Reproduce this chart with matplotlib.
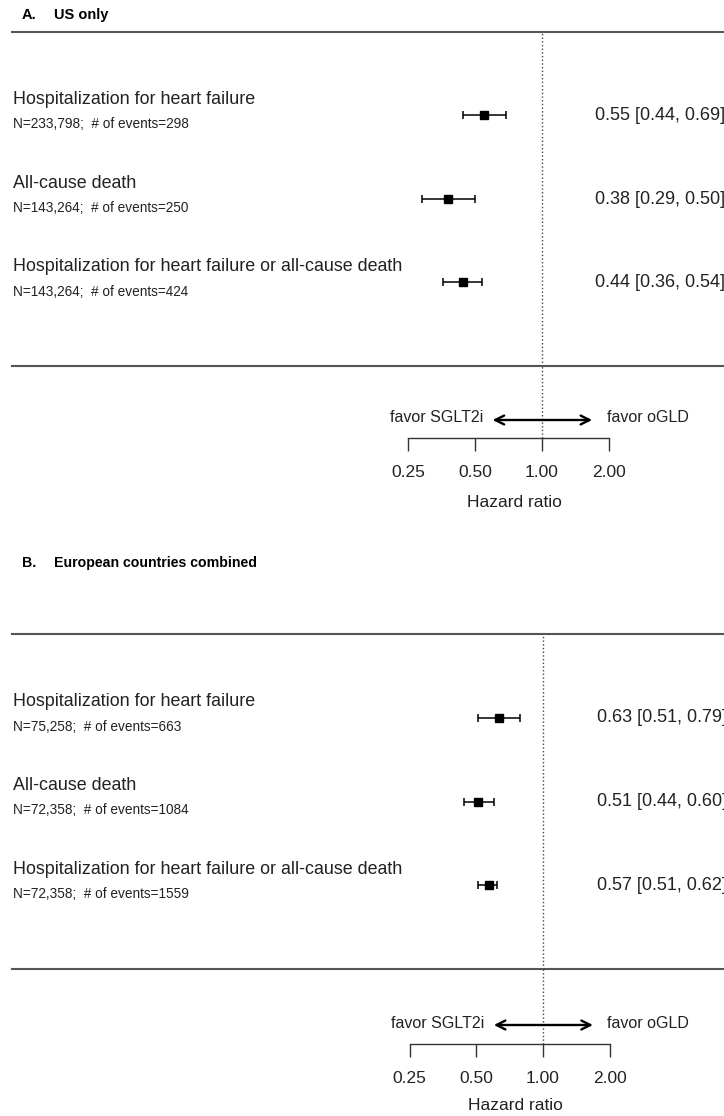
import numpy as np
import matplotlib
matplotlib.use("Agg")
import matplotlib.pyplot as plt
from matplotlib import transforms
from matplotlib.ticker import NullLocator

plt.rcParams['font.family'] = ['Liberation Sans', 'DejaVu Sans']

# data
outcomes = ["Hospitalization for heart failure",
            "All-cause death",
            "Hospitalization for heart failure or all-cause death"]

us_n = ["N=233,798;  # of events=298",
        "N=143,264;  # of events=250",
        "N=143,264;  # of events=424"]
us_hr = [0.55, 0.38, 0.44]
us_lo = [0.44, 0.29, 0.36]
us_hi = [0.69, 0.50, 0.54]

eu_n = ["N=75,258;  # of events=663",
        "N=72,358;  # of events=1084",
        "N=72,358;  # of events=1559"]
eu_hr = [0.63, 0.51, 0.57]
eu_lo = [0.51, 0.44, 0.51]
eu_hi = [0.79, 0.60, 0.62]

ticks = [0.25, 0.5, 1.0, 2.0]
tick_labels = ["0.25", "0.50", "1.00", "2.00"]

W, H = 724, 1116
fig = plt.figure(figsize=(W / 100, H / 100), dpi=100)
fig.patch.set_facecolor("white")

TXT = "#222222"
LINE = "#555555"


def fx(px):
    return px / W


def fy(py):
    return 1 - py / H


def panel(letter, title, title_y, title_size, names, n_txt, hr, lo, hi,
          cx, ppd, top, bot, axis_y, arrow_y, hz_y, val_x):
    left = 12
    xlim = (2 ** ((left - cx) / ppd), 2 ** ((W - cx) / ppd))
    ppy = (bot - top) / 4

    fig.text(fx(22), fy(title_y), letter, fontsize=title_size, weight="bold", va="center", color="black")
    fig.text(fx(54), fy(title_y), title, fontsize=title_size, weight="bold", va="center", color="black")

    main = fig.add_axes([fx(left), fy(bot), 1 - fx(left), (bot - top) / H])
    main.set_xscale("log", base=2)
    main.set_xlim(*xlim)
    main.set_ylim(4, 0)
    main.set_facecolor("none")

    rows = np.arange(1, len(hr) + 1)
    hr = np.array(hr)
    err = [hr - np.array(lo), np.array(hi) - hr]
    main.errorbar(hr, rows, xerr=err, fmt="s", color="black", ms=5.8,
                  capsize=3, elinewidth=1.1, capthick=1.1, zorder=3)
    main.axvline(1, color="#444444", ls=":", lw=1)

    for s in ["left", "right"]:
        main.spines[s].set_visible(False)
    for s in ["top", "bottom"]:
        main.spines[s].set_color(LINE)
        main.spines[s].set_linewidth(1.5)
    main.tick_params(which="both", bottom=False, labelbottom=False, left=False, labelleft=False)
    main.xaxis.set_minor_locator(NullLocator())

    trans = transforms.blended_transform_factory(fig.transFigure, main.transData)
    for r, name, nt, h, l, u in zip(rows, names, n_txt, hr, lo, hi):
        main.text(fx(13), r - 16 / ppy, name, transform=trans, fontsize=12.9,
                  va="center", ha="left", color=TXT)
        main.text(fx(13), r + 9 / ppy, nt, transform=trans, fontsize=9.8,
                  va="center", ha="left", color=TXT)
        main.text(fx(val_x), r, f"{h:.2f} [{l:.2f}, {u:.2f}]", transform=trans,
                  fontsize=13, va="center", ha="left", color=TXT)

    low = fig.add_axes([fx(left), fy(axis_y), 1 - fx(left), (axis_y - bot) / H])
    low.set_xscale("log", base=2)
    low.set_xlim(*xlim)
    low.set_ylim(0, 1)
    low.set_facecolor("none")
    low.set_xticks(ticks)
    low.set_xticklabels(tick_labels, fontsize=12.5, color=TXT)
    low.xaxis.set_minor_locator(NullLocator())
    low.set_yticks([])
    for s in ["left", "right", "top"]:
        low.spines[s].set_visible(False)
    low.spines["bottom"].set_bounds(ticks[0], ticks[-1])
    low.spines["bottom"].set_color("#333333")
    low.spines["bottom"].set_linewidth(1)
    low.tick_params(axis="x", length=9, width=1, color="#333333", pad=10.5)
    low.axvline(1, color="#444444", ls=":", lw=1)

    tr = low.get_xaxis_transform()
    span = axis_y - bot
    fa = (axis_y - arrow_y) / span
    low.annotate("", xy=(0.60, fa), xytext=(1.68, fa), xycoords=tr, textcoords=tr,
                 arrowprops=dict(arrowstyle="<->", lw=1.7, color="black",
                                 mutation_scale=16, shrinkA=0, shrinkB=0))
    low.text(0.545, fa + 2 / span, "favor SGLT2i", transform=tr, fontsize=11.5,
             ha="right", va="center", color=TXT)
    low.text(1.95, fa + 2 / span, "favor oGLD", transform=tr, fontsize=11.5,
             ha="left", va="center", color=TXT)
    low.text(0.75, (axis_y - hz_y) / span, "Hazard ratio", transform=tr,
             fontsize=12.5, ha="center", va="center", color=TXT)


panel("A.", "US only", 15, 10.5, outcomes, us_n, us_hr, us_lo, us_hi,
      cx=542, ppd=67, top=32, bot=366, axis_y=438, arrow_y=420, hz_y=502, val_x=595)
panel("B.", "European countries combined", 563, 10.2, outcomes, eu_n, eu_hr, eu_lo, eu_hi,
      cx=543, ppd=66.7, top=634, bot=969, axis_y=1044, arrow_y=1025, hz_y=1105, val_x=597)

fig.savefig("out.png", dpi=100)
